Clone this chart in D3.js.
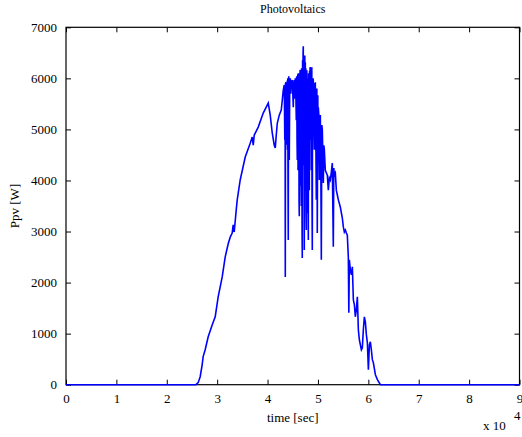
<!DOCTYPE html>
<html>
<head>
<meta charset="utf-8">
<script src="https://cdn.jsdelivr.net/npm/d3@7"></script>
<style>
  body { margin: 0; background: #fff; }
  svg text { font-family: "Liberation Serif", "Times New Roman", serif; fill: #000; }
</style>
</head>
<body>
<svg id="chart"></svg>
<script>
    // time [sec] and Ppv [W]
    const timeSec = [
      // morning ramp
      0, 25800, 26230, 26630, 27020, 27220, 27620, 28220, 29010, 29610,
      30200, 31000, 31590, 32190, 32590, 32980, 33180, 33380, 33780, 33980,
      34570, 35570, 36560, 36960, 37160, 37360, 38150, 39140, 40140, 40530,
      40930, 41330, 41530, 41730, 41930, 42320, 42720, 42920, 43120,
      // cloudy midday
      43320, 43420, 43480, 43520, 43570, 43620, 43670, 43720, 43820, 43910,
      43960, 44010, 44060, 44110, 44160, 44210, 44260, 44310, 44410, 44510,
      44610, 44710, 44910, 45010, 45110, 45200, 45300, 45400, 45500, 45600,
      45700, 45750, 45800, 45850, 45900, 45950, 46000, 46050, 46100, 46150,
      46200, 46250, 46300, 46350, 46400, 46450, 46500, 46550, 46600, 46650,
      46700, 46750, 46800, 46850, 46890, 46950, 47000, 47050, 47090, 47140,
      47190, 47240, 47290, 47340, 47390, 47440, 47490, 47540, 47590, 47640,
      47690, 47740, 47790, 47840, 47890, 47940, 47990, 48040, 48090, 48140,
      48190, 48240, 48290, 48340, 48390, 48440, 48480, 48530, 48580, 48630,
      48680, 48730, 48780, 48830, 48880, 48930, 48980, 49030,
      49080, 49180, 49280, 49380, 49480, 49580, 49680, 49780, 49870, 49970,
      50020, 50070, 50170, 50270, 50370, 50470, 50570, 50670, 50770, 50870,
      50970, 51070, 51170, 51270,
      // afternoon decline
      51460, 51860, 52060, 52260, 52460, 52660, 52850, 53050, 53150, 53250,
      53450, 53650, 53850, 54050, 54440, 54840, 55040, 55240, 55440, 55640,
      55830, 56030, 56130, 56230, 56430, 56630, 56830, 57030, 57230, 57420,
      57620, 57820, 58020, 58220, 58420, 58620, 58810, 59010, 59210, 59410,
      59610, 59810, 60010, 60210, 60400, 60600, 60800, 61000, 61400, 61800,
      62390, 90000
    ];
    const ppv = [
      0, 0, 40, 156, 390, 550, 685, 940, 1170, 1330,
      1720, 2110, 2500, 2760, 2890, 2970, 3130, 2990, 3420, 3620,
      4010, 4460, 4730, 4850, 4690, 4890, 5045, 5320, 5515, 5280,
      4930, 4690, 4635, 4890, 5120, 5280, 5380, 5570, 5770,

      5870, 4800, 5800, 2110, 5900, 5925, 4700, 5850, 5500, 5960,
      4600, 6000, 4000, 2835, 5900, 6040, 5600, 4400, 5950, 6000,
      5700, 5925, 5965, 5700, 5435, 5900, 5965, 5600, 6000, 5800,
      5180, 6000, 6040, 4800, 4400, 5900, 6080, 4200, 6100, 5000,
      6050, 3620, 3300, 6100, 4700, 6150, 6160, 3900, 6000, 4010,
      3500, 6200, 5200, 3000, 2480, 6355, 5100, 6500, 6630, 4300,
      4600, 6300, 2640, 6000, 6450, 3800, 6315, 5000, 6200, 3400,
      3030, 6100, 6160, 4200, 3360, 6000, 5770, 3600, 2835, 6100,
      6060, 4500, 3810, 6150, 5400, 6200, 6220, 4800, 6150, 5200,
      4200, 6200, 6200, 3500, 2640, 5900, 5000, 6000,
      5965, 5200, 4600, 5900, 5905, 4800, 3620, 5800, 2970, 5670,
      4600, 5435, 5300, 4010, 5200, 5280, 4300, 2445, 5085, 4990,
      4500, 3950, 4690, 4600,

      4200, 4105, 3810, 4050, 4010, 4165, 4340, 2700, 4245, 4105,
      4145, 3810, 3715, 3620, 3480, 3265, 3090, 2990, 3030, 2970,
      2930, 2500, 1410, 2445, 2250, 2150, 2310, 1660, 1565, 1330,
      1465, 1720, 1075, 880, 780, 685, 725, 1075, 1330, 1230,
      980, 820, 295, 780, 840, 685, 490, 430, 195, 100,
      0, 0
    ];

    const xTicks = d3.range(0, 10).map(d => d * 10000);
    const yTicks = d3.range(0, 8).map(d => d * 1000);

    function drawChart() {
      const width = 522;
      const height = 437;
      const mLeft = 66, mRight = 519.5, mTop = 27.3, mBottom = 384.7;
      const tickLen = 5;

      const svg = d3.select("#chart")
        .attr("width", width)
        .attr("height", height);

      const x = d3.scaleLinear().domain([0, 90000]).range([mLeft, mRight]);
      const y = d3.scaleLinear().domain([0, 7000]).range([mBottom, mTop]);

      const data = timeSec.map((t, i) => ({ t: t, p: ppv[i] }));

      // box
      svg.append("rect")
        .attr("x", mLeft)
        .attr("y", mTop)
        .attr("width", mRight - mLeft)
        .attr("height", mBottom - mTop)
        .attr("fill", "none")
        .attr("stroke", "#000")
        .attr("stroke-width", 1.2);

      // bottom / left axes with inward ticks, labels outside
      const xAxis = d3.axisBottom(x)
        .tickValues(xTicks)
        .tickSize(-tickLen)
        .tickPadding(9)
        .tickFormat(d => d / 10000);

      const yAxis = d3.axisLeft(y)
        .tickValues(yTicks)
        .tickSize(-tickLen)
        .tickPadding(9)
        .tickFormat(d3.format("d"));

      const gx = svg.append("g")
        .attr("transform", `translate(0,${mBottom})`)
        .call(xAxis);
      const gy = svg.append("g")
        .attr("transform", `translate(${mLeft},0)`)
        .call(yAxis);

      // mirrored ticks on top and right
      const gxTop = svg.append("g")
        .attr("transform", `translate(0,${mTop})`)
        .call(d3.axisTop(x).tickValues(xTicks).tickSize(-tickLen).tickFormat(""));
      const gyRight = svg.append("g")
        .attr("transform", `translate(${mRight},0)`)
        .call(d3.axisRight(y).tickValues(yTicks).tickSize(-tickLen).tickFormat(""));

      [gx, gy, gxTop, gyRight].forEach(g => {
        g.select(".domain").remove();
        g.selectAll(".tick line").attr("stroke", "#000").attr("stroke-width", 1);
        g.selectAll("text")
          .style("font-family", "Liberation Serif, serif")
          .style("font-size", "13px")
          .attr("fill", "#000");
      });

      // the curve goes over the box, like the zero line in the original
      const line = d3.line()
        .x(d => x(d.t))
        .y(d => y(d.p));

      svg.append("path")
        .datum(data)
        .attr("fill", "none")
        .attr("stroke", "#0000ff")
        .attr("stroke-width", 1.6)
        .attr("d", line);

      // title and labels
      svg.append("text")
        .attr("x", (mLeft + mRight) / 2)
        .attr("y", 13)
        .attr("text-anchor", "middle")
        .style("font-size", "12px")
        .text("Photovoltaics");

      svg.append("text")
        .attr("x", (mLeft + mRight) / 2)
        .attr("y", 422)
        .attr("text-anchor", "middle")
        .style("font-size", "13px")
        .text("time [sec]");

      svg.append("text")
        .attr("transform", `translate(19,${(mTop + mBottom) / 2}) rotate(-90)`)
        .attr("text-anchor", "middle")
        .style("font-size", "13px")
        .text("Ppv [W]");

      // exponent marker
      svg.append("text")
        .attr("x", 483)
        .attr("y", 430)
        .style("font-size", "13px")
        .text("x 10");
      svg.append("text")
        .attr("x", 514)
        .attr("y", 420)
        .style("font-size", "13px")
        .text("4");
    }

    drawChart();
</script>
</body>
</html>
